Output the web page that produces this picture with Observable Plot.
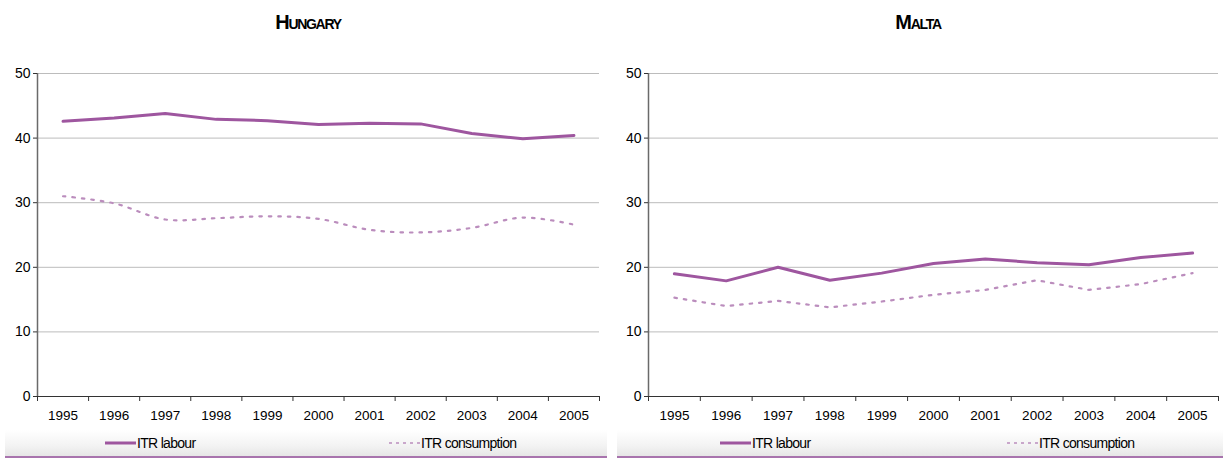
<!DOCTYPE html>
<html>
<head>
<meta charset="utf-8">
<script src="https://cdn.jsdelivr.net/npm/d3@7"></script>
<script src="https://cdn.jsdelivr.net/npm/@observablehq/plot@0.6"></script>
<style>
  html, body { margin: 0; padding: 0; background: #fff; }
  #root { position: relative; width: 1223px; height: 459px; overflow: hidden;
    font-family: "Liberation Sans Narrow", "Arial Narrow", "Liberation Sans", Arial, sans-serif; }
  .panel { position: absolute; top: 0; }
  .title { position: absolute; top: 11px; font-weight: bold; font-variant: small-caps; font-size: 20px;
    letter-spacing: -1.3px; color: #000; transform: translateX(-50%); white-space: nowrap; }
  .legend { position: absolute; top: 430px; height: 26px; border-bottom: 2px solid #a874ad;
    background: linear-gradient(to bottom, #ffffff 0%, #f3f3f3 60%, #e6e6e6 100%); }
  .item { position: absolute; top: 5px; font-size: 14px; letter-spacing: -0.7px; color: #000; white-space: nowrap; }
  .item svg { vertical-align: middle; margin-right: 1px; position: relative; top: -1px; }
  svg.plot text { font-family: "Liberation Sans Narrow", "Arial Narrow", "Liberation Sans", Arial, sans-serif; }
</style>
</head>
<body>
<div id="root"></div>
<script>
// ---- data ----
const years = [1995, 1996, 1997, 1998, 1999, 2000, 2001, 2002, 2003, 2004, 2005];
const yTicks = [0, 10, 20, 30, 40, 50];
const seriesNames = ["ITR labour", "ITR consumption"];
const countries = ["Hungary", "Malta"];
const hungaryLabour = [42.6, 43.1, 43.8, 42.9, 42.7, 42.1, 42.3, 42.2, 40.7, 39.9, 40.4];
const hungaryConsumption = [31.0, 29.9, 27.4, 27.6, 27.9, 27.5, 25.8, 25.4, 26.1, 27.7, 26.6];
const maltaLabour = [19.0, 17.9, 20.0, 18.0, 19.1, 20.6, 21.3, 20.7, 20.4, 21.5, 22.2];
const maltaConsumption = [15.3, 14.0, 14.8, 13.8, 14.7, 15.75, 16.5, 18.0, 16.5, 17.4, 19.1];

const labourColor = "#9e569f";
const consColor = "#bb8dbd";
const FONT = '"Liberation Sans Narrow", "Arial Narrow", "Liberation Sans", Arial, sans-serif';

const root = document.getElementById("root");

function panel(opts) {
  const {name, labour, cons, left, width, mL, mR, titleX, legend} = opts;
  const labourData = years.map((y, i) => ({year: y, value: labour[i]}));
  const consData = years.map((y, i) => ({year: y, value: cons[i]}));
  const bounds = years.map(y => y - 0.5).concat([years[years.length - 1] + 0.5]);

  const chart = Plot.plot({
    width, height: 430,
    marginLeft: mL, marginRight: mR, marginTop: 73, marginBottom: 34,
    style: {background: "transparent", fontFamily: FONT, fontSize: "13px", color: "#000"},
    x: {type: "linear", domain: [bounds[0], bounds[bounds.length - 1]]},
    y: {domain: [0, 50]},
    marks: [
      Plot.gridY(yTicks, {stroke: "#bcbcbc", strokeOpacity: 1, strokeWidth: 1}),
      Plot.ruleX([bounds[0]], {y1: 0, y2: 50, stroke: "#6a6a6a", strokeWidth: 1.5}),
      Plot.ruleY([0], {stroke: "#333", strokeWidth: 1}),
      Plot.axisY(yTicks, {tickSize: 4, tickPadding: 3, stroke: "#333", label: null, fontSize: 14}),
      Plot.axisX(bounds, {tickSize: 5, tickFormat: () => "", stroke: "#333", label: null}),
      Plot.axisX(years, {tickSize: 0, tickPadding: 14, tickFormat: d3.format("d"), label: null, fontSize: 13.5}),
      Plot.line(consData, {x: "year", y: "value", stroke: consColor, strokeWidth: 2.2,
        strokeDasharray: "2.5,7", curve: name === "Hungary" ? "catmull-rom" : "linear"}),
      Plot.line(labourData, {x: "year", y: "value", stroke: labourColor, strokeWidth: 3})
    ]
  });
  const div = document.createElement("div");
  div.className = "panel";
  div.style.left = left + "px";
  div.appendChild(chart);
  root.appendChild(div);

  const t = document.createElement("div");
  t.className = "title";
  t.style.left = titleX + "px";
  t.textContent = name;
  root.appendChild(t);

  const lg = document.createElement("div");
  lg.className = "legend";
  lg.style.left = legend.x0 + "px";
  lg.style.width = (legend.x1 - legend.x0) + "px";
  const items = [
    {label: seriesNames[0], x: legend.a - legend.x0, stroke: labourColor, w: 3, dash: null},
    {label: seriesNames[1], x: legend.b - legend.x0, stroke: consColor, w: 1.6, dash: "3,4"}
  ];
  for (const it of items) {
    const s = document.createElement("div");
    s.className = "item";
    s.style.left = it.x + "px";
    s.innerHTML = `<svg width="31" height="6"><line x1="0" x2="31" y1="3" y2="3" stroke="${it.stroke}" stroke-width="${it.w}" ${it.dash ? `stroke-dasharray="${it.dash}"` : ""}/></svg>${it.label}`;
    lg.appendChild(s);
  }
  root.appendChild(lg);
}

panel({name: countries[0], labour: hungaryLabour, cons: hungaryConsumption, left: 0, width: 612, mL: 37, mR: 13,
  titleX: 308, legend: {x0: 5, x1: 607, a: 105, b: 389}});
panel({name: countries[1], labour: maltaLabour, cons: maltaConsumption, left: 612, width: 611, mL: 36, mR: 5,
  titleX: 918, legend: {x0: 617, x1: 1223, a: 720, b: 1007}});
</script>
</body>
</html>
